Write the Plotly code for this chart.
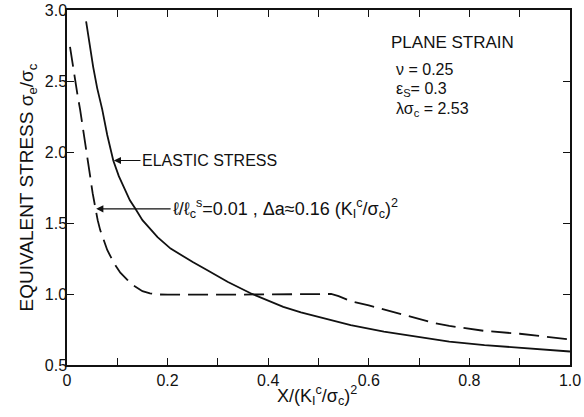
import plotly.graph_objects as go

# Elastic stress (solid)
elastic_x = [0.038, 0.045, 0.052, 0.060, 0.070, 0.080, 0.092, 0.103, 0.114, 0.125, 0.136, 0.150,
             0.165, 0.180, 0.206, 0.230, 0.250, 0.280, 0.320, 0.365, 0.400, 0.430, 0.465, 0.500,
             0.564, 0.630, 0.700, 0.760, 0.830, 0.900, 1.000]
elastic_y = [2.92, 2.75, 2.60, 2.45, 2.30, 2.12, 1.94, 1.83, 1.74, 1.66, 1.60, 1.52,
             1.46, 1.40, 1.32, 1.265, 1.225, 1.165, 1.085, 1.005, 0.955, 0.91, 0.87, 0.84,
             0.78, 0.735, 0.70, 0.665, 0.64, 0.62, 0.595]

# l/lc = 0.01 case (dashed)
dashed_x = [0.006, 0.011, 0.016, 0.021, 0.026, 0.031, 0.036, 0.041, 0.046, 0.051, 0.056, 0.061,
            0.066, 0.073, 0.080, 0.093, 0.106, 0.120, 0.132, 0.150, 0.165, 0.180, 0.200, 0.300,
            0.400, 0.500, 0.525, 0.540, 0.564, 0.600, 0.630, 0.665, 0.700, 0.730, 0.760, 0.800,
            0.830, 0.900, 0.950, 1.000]
dashed_y = [2.74, 2.62, 2.51, 2.40, 2.30, 2.19, 2.08, 1.95, 1.83, 1.71, 1.60, 1.52,
            1.45, 1.38, 1.31, 1.22, 1.15, 1.10, 1.06, 1.02, 1.005, 0.997, 0.995, 0.995,
            0.995, 0.997, 1.00, 0.985, 0.95, 0.92, 0.89, 0.855, 0.825, 0.795, 0.775, 0.755,
            0.74, 0.72, 0.70, 0.68]

x_tickvals = [0.0, 0.1, 0.2, 0.3, 0.4, 0.5, 0.6, 0.7, 0.8, 0.9, 1.0]
x_ticktext = ["0", "", "0.2", "", "0.4", "", "0.6", "", "0.8", "", "1.0"]
y_tickvals = [0.5, 1.0, 1.5, 2.0, 2.5, 3.0]
y_ticktext = ["0.5", "1.0", "1.5", "2.0", "2.5", "3.0"]

FONT = "Liberation Sans"
INK = "#111111"

fig = go.Figure()
fig.add_trace(go.Scatter(x=elastic_x, y=elastic_y, mode="lines",
                         line=dict(color=INK, width=1.8),
                         showlegend=False))
fig.add_trace(go.Scatter(x=dashed_x, y=dashed_y, mode="lines",
                         line=dict(color=INK, width=1.8, dash="20px,8px"),
                         showlegend=False))

fig.add_annotation(x=0.093, y=1.94, ax=0.146, ay=1.94, axref="x", ayref="y",
                   text="ELASTIC STRESS", xanchor="left", showarrow=True,
                   arrowhead=2, arrowsize=1.2, arrowwidth=1.2, arrowcolor=INK,
                   font=dict(family=FONT, size=16, color=INK))
fig.add_annotation(x=0.058, y=1.60, ax=0.206, ay=1.60, axref="x", ayref="y",
                   text="ℓ/ℓ<sub>c</sub><sup>s</sup>=0.01 , Δa≈0.16 (K<sub>I</sub><sup>c</sup>/σ<sub>c</sub>)<sup>2</sup>",
                   xanchor="left", showarrow=True,
                   arrowhead=2, arrowsize=1.2, arrowwidth=1.2, arrowcolor=INK,
                   font=dict(family=FONT, size=18, color=INK))

params = ["PLANE STRAIN", "ν = 0.25", "ε<sub>S</sub>= 0.3", "λσ<sub>c</sub> = 2.53"]
params_x = [0.641, 0.651, 0.650, 0.650]
params_y = [2.77, 2.58, 2.44, 2.30]
params_size = [17, 16, 16, 16]
for t, px, py, fs in zip(params, params_x, params_y, params_size):
    fig.add_annotation(x=px, y=py, text=t, showarrow=False, xanchor="left", yanchor="middle",
                       font=dict(family=FONT, size=fs, color=INK))

# x-axis title placed as paper annotation (closer to tick labels than standoff allows)
fig.add_annotation(x=0.497, y=-0.085, xref="paper", yref="paper", showarrow=False,
                   text="X/(K<sub>I</sub><sup>c</sup>/σ<sub>c</sub>)<sup>2</sup>",
                   xanchor="center", yanchor="middle",
                   font=dict(family=FONT, size=18, color=INK))

axis_common = dict(showgrid=False, zeroline=False, showline=True, linecolor=INK, linewidth=1.5,
                   mirror="ticks", ticks="inside", ticklen=7, tickwidth=1.3, tickcolor=INK,
                   automargin=False,
                   tickfont=dict(family=FONT, size=16, color=INK))

fig.update_xaxes(range=[0, 1.0], tickmode="array", tickvals=x_tickvals, ticktext=x_ticktext,
                 **axis_common)
fig.update_yaxes(range=[0.5, 3.0], tickmode="array", tickvals=y_tickvals, ticktext=y_ticktext,
                 ticklabelstandoff=-5,
                 title=dict(text="EQUIVALENT STRESS σ<sub>e</sub>/σ<sub>c</sub>",
                            font=dict(family=FONT, size=19, color=INK), standoff=6),
                 **axis_common)

fig.update_layout(width=584, height=417, margin=dict(l=67, r=14, t=10, b=52),
                  plot_bgcolor="white", paper_bgcolor="white",
                  font=dict(family=FONT, color=INK))

fig.write_html("out.html", config={"displayModeBar": False},
               post_script="document.body.style.margin='0';document.body.style.overflow='hidden';")
